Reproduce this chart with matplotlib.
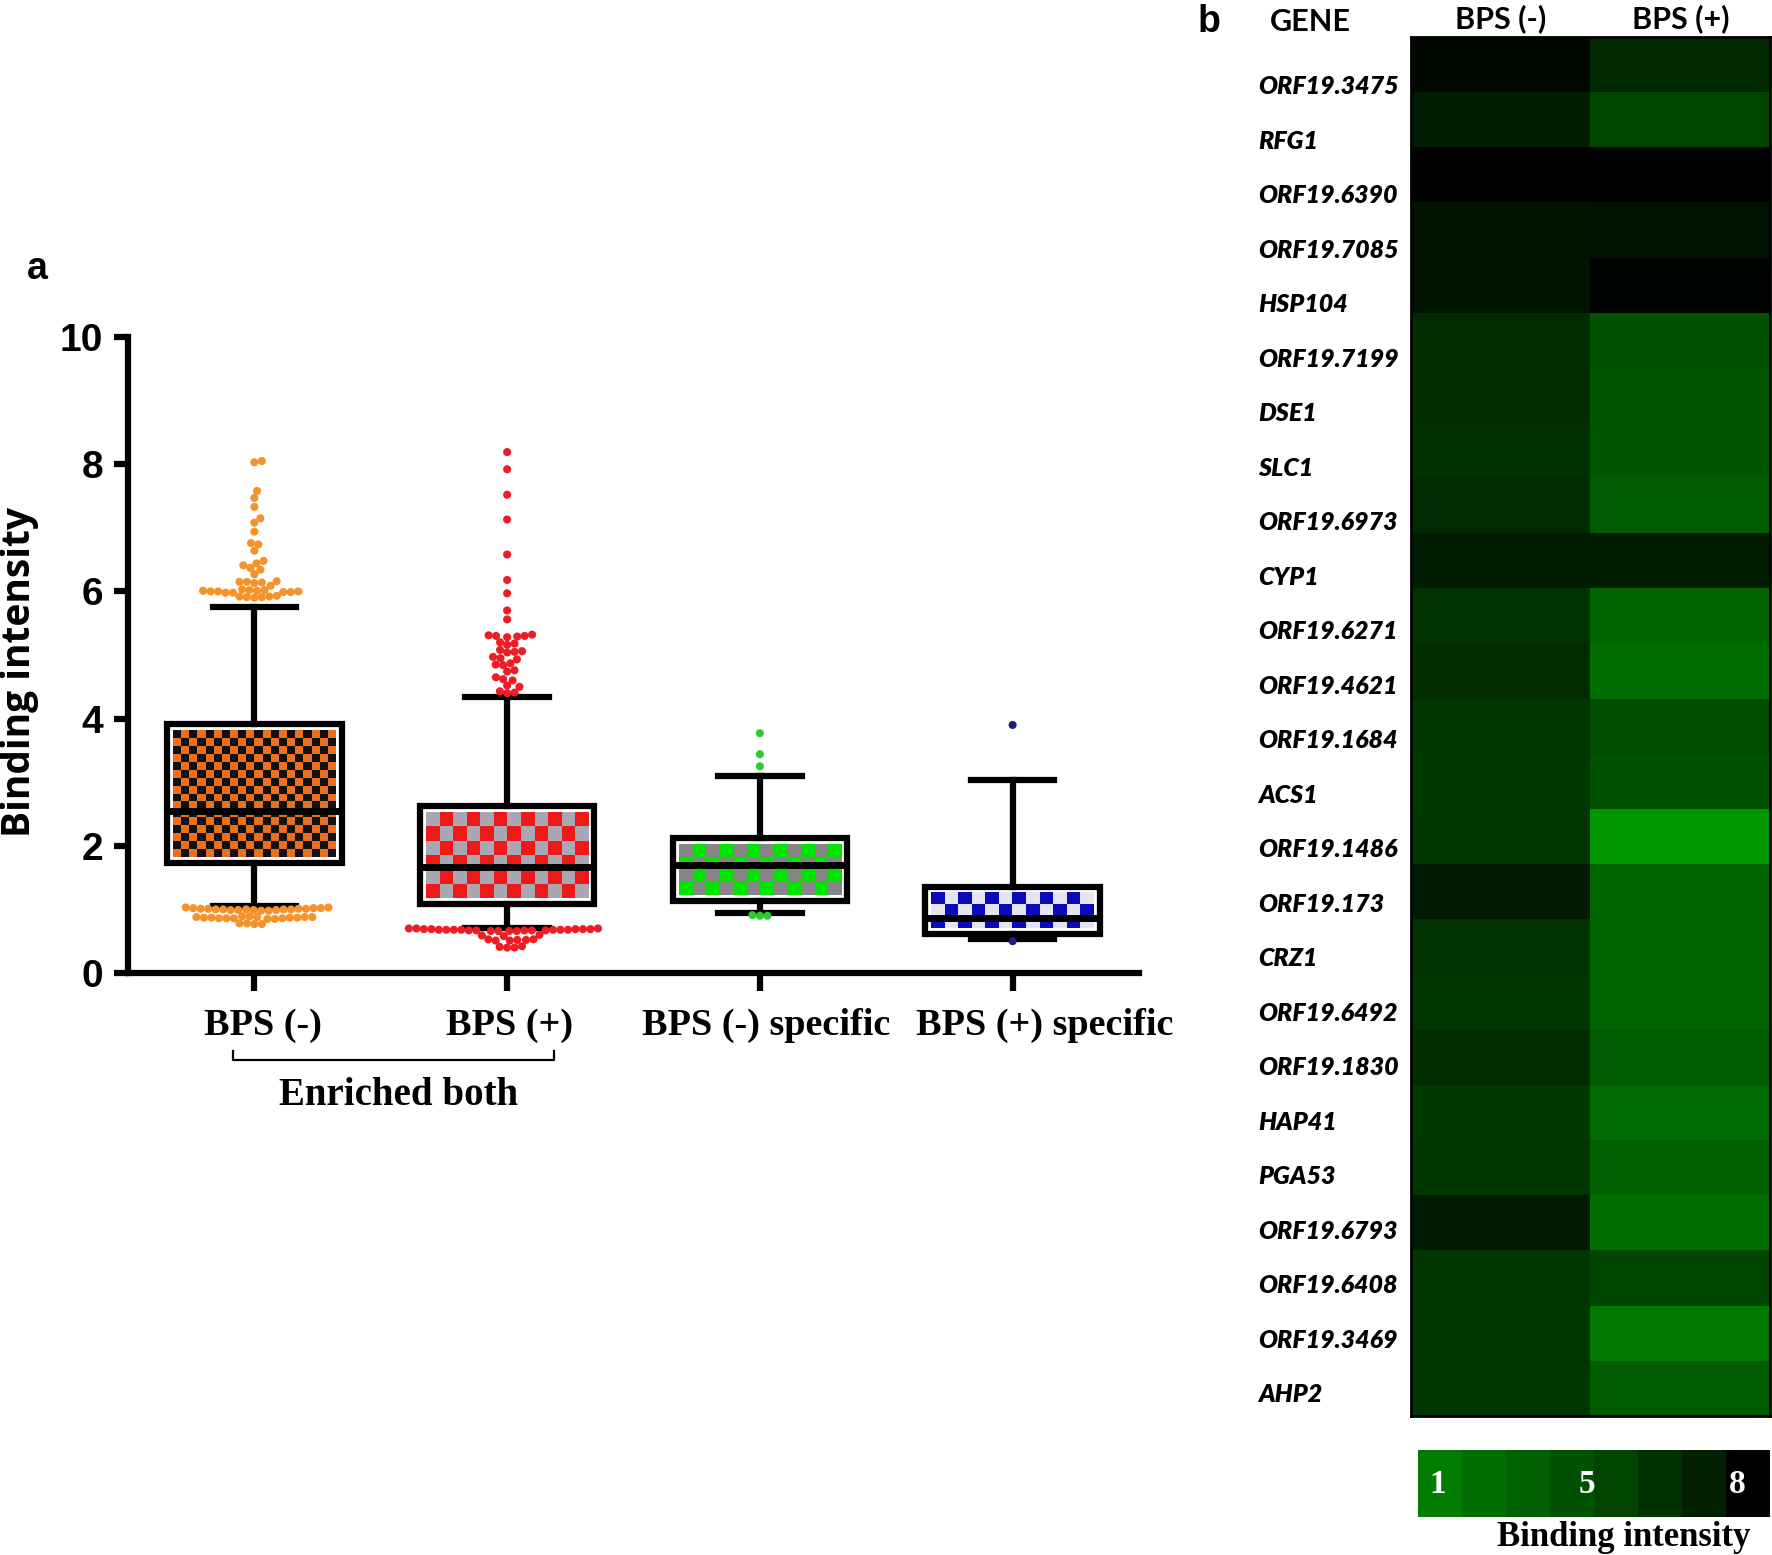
import numpy as np
import matplotlib.pyplot as plt
from matplotlib.colors import ListedColormap, LinearSegmentedColormap
from matplotlib.transforms import ScaledTranslation

# ---------------- panel a : box plot ----------------
groups = ["BPS (-)", "BPS (+)", "BPS (-) specific", "BPS (+) specific"]
q1 = [1.73, 1.08, 1.13, 0.62]
med = [2.55, 1.66, 1.70, 0.87]
q3 = [3.91, 2.62, 2.12, 1.36]
whis_lo = [1.05, 0.71, 0.95, 0.53]
whis_hi = [5.75, 4.34, 3.09, 3.04]

fliers_1 = [8.05, 8.03, 7.58, 7.47, 7.33, 7.15, 7.08, 6.94, 6.76, 6.74, 6.64, 6.48,
            6.44, 6.41, 6.37, 6.34, 6.27, 6.16, 6.15, 6.15, 6.14, 6.13, 6.09, 6.03,
            6.02, 6.02, 6.01, 6.01, 6.00, 6.00, 6.00, 5.99, 5.99, 5.98, 5.98, 5.93,
            5.92, 5.92, 5.91, 5.91, 5.90,
            1.03, 1.03, 1.02, 1.02, 1.02, 1.01, 1.01, 1.01, 1.01, 1.00, 1.00, 1.00,
            1.00, 1.00, 0.99, 0.99, 0.99, 0.99, 0.98, 0.98,
            0.89, 0.89, 0.88, 0.88, 0.88, 0.88, 0.87, 0.87, 0.87, 0.87, 0.86, 0.86,
            0.86, 0.86, 0.85, 0.85, 0.78, 0.78, 0.77, 0.77]
fliers_2 = [8.19, 7.92, 7.52, 7.13, 6.58, 6.18, 5.97, 5.70, 5.56, 5.32, 5.31, 5.30,
            5.30, 5.29, 5.28, 5.20, 5.18, 5.16, 5.08, 5.06, 5.05, 5.04, 4.97, 4.95,
            4.93, 4.87, 4.85, 4.84, 4.76, 4.74, 4.65, 4.62, 4.60, 4.52, 4.50, 4.43,
            4.41, 4.40,
            0.70, 0.70, 0.70, 0.69, 0.69, 0.69, 0.69, 0.69, 0.68, 0.68, 0.68, 0.68,
            0.68, 0.68, 0.68, 0.67, 0.67, 0.67, 0.67, 0.67, 0.66, 0.66, 0.66, 0.66,
            0.60, 0.59, 0.58, 0.53, 0.53, 0.52, 0.52, 0.51, 0.51, 0.42, 0.41, 0.40, 0.40]
fliers_3 = [3.77, 3.44, 3.25, 0.91, 0.90, 0.90]
fliers_4 = [3.90, 0.50]
fliers = [fliers_1, fliers_2, fliers_3, fliers_4]

dot_colors = ["#F5922A", "#EE1C24", "#2DCC2D", "#1F1F7A"]
check_a = ["#E8701E", "#F01818", "#00E400", "#0A0AB8"]
check_b = ["#111111", "#A8A8B4", "#858585", "#E4E4F2"]
check_px = [8, 14, 14, 13]

# ---------------- panel b : heatmap ----------------
genes = ["ORF19.3475", "RFG1", "ORF19.6390", "ORF19.7085", "HSP104", "ORF19.7199",
         "DSE1", "SLC1", "ORF19.6973", "CYP1", "ORF19.6271", "ORF19.4621",
         "ORF19.1684", "ACS1", "ORF19.1486", "ORF19.173", "CRZ1", "ORF19.6492",
         "ORF19.1830", "HAP41", "PGA53", "ORF19.6793", "ORF19.6408", "ORF19.3469", "AHP2"]
bps_minus = [7.6, 6.6, 7.9, 7.0, 7.0, 5.9, 5.9, 5.7, 6.0, 6.6, 5.6, 5.9, 5.4,
             5.3, 5.4, 6.7, 5.6, 5.4, 5.9, 5.3, 5.4, 6.7, 5.4, 5.4, 5.4]
bps_plus = [6.1, 4.7, 8.0, 7.1, 7.8, 4.2, 4.0, 4.0, 3.7, 6.6, 3.3, 2.8, 4.4,
            4.2, 1.0, 3.3, 3.3, 3.3, 3.7, 3.0, 3.5, 2.8, 4.7, 2.3, 3.7]
conditions = ["BPS (-)", "BPS (+)"]

cbar_values = [1, 2, 3, 4, 5, 6, 7, 8]
cbar_colors = ["#007D00", "#006E00", "#005F00", "#005200", "#004400", "#003200",
               "#002000", "#000000"]
cbar_labels = ["1", "5", "8"]
cbar_label_pos = [-0.05, 3.35, 6.75]

SERIF = ["Liberation Serif", "DejaVu Serif"]
SANS = ["Liberation Sans", "DejaVu Sans"]
CAL = ["Lato", "Open Sans", "DejaVu Sans"]

fig = plt.figure(figsize=(17.72, 15.55), dpi=100)

ax = fig.add_axes([128 / 1772, 1 - 973 / 1555, (1139 - 128) / 1772, 636 / 1555])
pos = [1, 2, 3, 4]
stats = [dict(med=med[i], q1=q1[i], q3=q3[i], whislo=whis_lo[i], whishi=whis_hi[i],
              fliers=[]) for i in range(4)]
ax.bxp(stats, positions=pos, widths=0.69, capwidths=0.33, patch_artist=True,
       showfliers=False,
       boxprops=dict(facecolor="white", edgecolor="black", linewidth=4.5, zorder=2),
       whiskerprops=dict(color="black", linewidth=4.5, zorder=3),
       capprops=dict(color="black", linewidth=4.5, zorder=3),
       medianprops=dict(color="black", linewidth=5, zorder=4, solid_capstyle="butt"))
ax.set_xlim(0.5, 4.5)
ax.set_ylim(0, 10)

# checkered fill of each box
for i in range(4):
    x0, x1 = pos[i] - 0.345, pos[i] + 0.345
    (p0x, p0y), (p1x, p1y) = ax.transData.transform([(x0, q1[i]), (x1, q3[i])])
    inset = 6
    (a0x, a0y) = ax.transData.inverted().transform((p0x + inset, p0y + inset))
    (a1x, a1y) = ax.transData.inverted().transform((p1x - inset, p1y - inset))
    nx = max(1, int(round((p1x - p0x - 2 * inset) / check_px[i])))
    ny = max(1, int(round((p1y - p0y - 2 * inset) / check_px[i])))
    board = np.add.outer(np.arange(ny), np.arange(nx)) % 2
    ax.imshow(board, cmap=ListedColormap([check_a[i], check_b[i]]), vmin=0, vmax=1,
              extent=(a0x, a1x, a0y, a1y), origin="lower", aspect="auto",
              interpolation="nearest", zorder=2.5)


def swarm(vals, xc, d):
    pts = ax.transData.transform(np.column_stack([np.full(len(vals), xc), vals]))
    placed = []
    xs = np.zeros(len(vals))
    for i in np.argsort(vals):
        px, py = pts[i]
        cands = [0.0]
        for qx, qy in placed:
            dy = py - qy
            if abs(dy) < d:
                dx = np.sqrt(d * d - dy * dy)
                cands += [qx - px + dx, qx - px - dx]
        cands.sort(key=abs)
        for c in cands:
            if all((px + c - qx) ** 2 + (py - qy) ** 2 >= d * d - 1e-6 for qx, qy in placed):
                break
        placed.append((px + c, py))
        xs[i] = px + c
    return ax.transData.inverted().transform(np.column_stack([xs, pts[:, 1]]))[:, 0]


for i in range(4):
    xs = swarm(np.array(fliers[i]), pos[i], 7.5)
    ax.scatter(xs, fliers[i], s=34, color=dot_colors[i], edgecolor="none",
               zorder=5, clip_on=False)

for s in ["top", "right"]:
    ax.spines[s].set_visible(False)
for s in ["left", "bottom"]:
    ax.spines[s].set_linewidth(4.5)
ax.tick_params(axis="y", length=10, width=4.5, pad=8)
ax.tick_params(axis="x", length=13, width=4.5, pad=12)
ax.set_yticks([0, 2, 4, 6, 8, 10])
ax.set_xticks(pos)
ax.set_xticklabels(groups, fontfamily=SERIF, fontweight="bold", fontsize=27.5)
# small horizontal shifts of the category labels as in the original
for t, dx in zip(ax.get_xticklabels(), [9, 2, 6, 32]):
    t.set_transform(t.get_transform() + ScaledTranslation(dx / 100, 0, fig.dpi_scale_trans))
for t in ax.get_yticklabels():
    t.set_fontfamily(SANS)
    t.set_fontweight("bold")
    t.set_fontsize(28)

fig.text(20 / 1772, 1 - 672 / 1555, "Binding intensity", rotation=90, ha="center",
         va="center", fontsize=28, fontweight="bold", family=["Open Sans", "DejaVu Sans"])
fig.text(37 / 1772, 1 - 269 / 1555, "a", ha="center", va="center", fontsize=27,
         fontweight="bold", family=SANS)

# bracket for "Enriched both"
tr = ax.get_xaxis_transform()
ax.plot([0.915, 0.915, 2.185, 2.185], [-0.123, -0.137, -0.137, -0.123], color="black",
        lw=1.6, transform=tr, clip_on=False)
ax.text(1.57, -0.192, "Enriched both", transform=tr, ha="center", va="center",
        fontsize=28, fontweight="bold", family=SERIF)

# ---------------- heatmap ----------------
ax2 = fig.add_axes([1411 / 1772, 1 - 1416 / 1555, (1770 - 1411) / 1772, (1416 - 37) / 1555])
heat_cmap = LinearSegmentedColormap.from_list("gb", ["#009600", "#000000"])
ax2.imshow(np.column_stack([bps_minus, bps_plus]), cmap=heat_cmap, vmin=1, vmax=8,
           aspect="auto", interpolation="nearest")
ax2.tick_params(axis="y", length=0, pad=110)
ax2.tick_params(axis="x", length=0, pad=3)
# gene names are evenly spaced a little off the row centres in the original
ax2.set_yticks(np.linspace(0.37, 24.08, len(genes)))
ax2.set_yticklabels(genes, fontsize=18, fontweight="heavy", fontstyle="italic", family=CAL)
for t in ax2.get_yticklabels():
    t.set_horizontalalignment("left")
ax2.set_ylim(24.5, -0.5)
ax2.xaxis.tick_top()
ax2.set_xticks([0, 1])
ax2.set_xticklabels(conditions, fontsize=22, fontweight="bold", family=CAL)
for s in ax2.spines.values():
    s.set_linewidth(2)
fig.text(1310 / 1772, 1 - 22 / 1555, "GENE", ha="center", va="center", fontsize=22,
         fontweight="bold", family=CAL)
fig.text(1209 / 1772, 1 - 22 / 1555, "b", ha="center", va="center", fontsize=27,
         fontweight="bold", family=SANS)

# ---------------- colour scale ----------------
ax3 = fig.add_axes([1418 / 1772, 1 - 1517 / 1555, (1770 - 1418) / 1772, 67 / 1555])
ax3.imshow(np.array([cbar_values]), cmap=ListedColormap(cbar_colors), vmin=0.5,
           vmax=8.5, aspect="auto", interpolation="nearest")
ax3.set_xticks([])
ax3.set_yticks([])
for s in ax3.spines.values():
    s.set_visible(False)
for lab, xp in zip(cbar_labels, cbar_label_pos):
    ax3.text(xp, 0.02, lab, color="white", ha="center", va="center", fontsize=24,
             fontweight="bold", family=SERIF)
fig.text(1624 / 1772, 1 - 1537 / 1555, "Binding intensity", ha="center", va="center",
         fontsize=25, fontweight="bold", family=SERIF)

fig.savefig("out.png", dpi=100)
